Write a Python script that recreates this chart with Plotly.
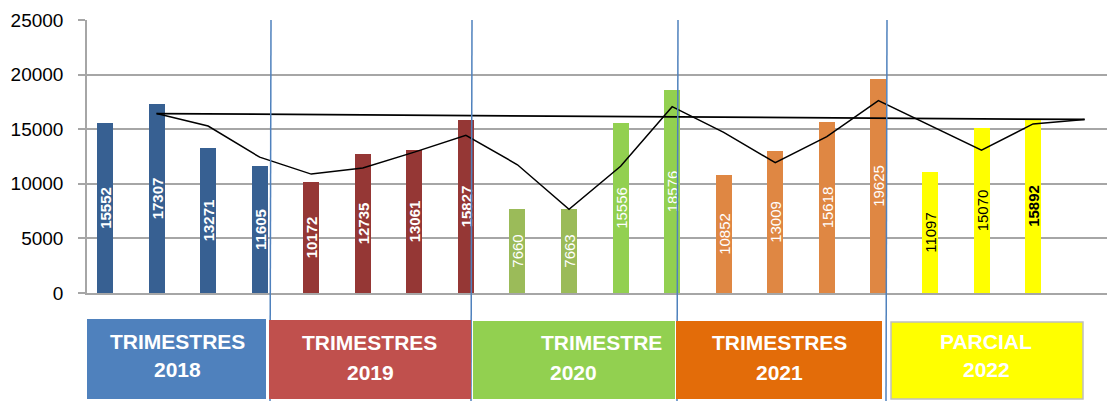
import numpy as np
import pandas as pd
import plotly.graph_objects as go

# ---- data ----
years = ["2018", "2019", "2020", "2021", "2022"]
values_2018 = [15552, 17307, 13271, 11605]
values_2019 = [10172, 12735, 13061, 15827]
values_2020 = [7660, 7663, 15556, 18576]
values_2021 = [10852, 13009, 15618, 19625]
values_2022 = [11097, 15070, 15892]
group_titles = ["TRIMESTRES", "TRIMESTRES", "TRIMESTRE", "TRIMESTRES", "PARCIAL"]

values = values_2018 + values_2019 + values_2020 + values_2021 + values_2022
n = len(values)
xs = list(range(n))

# ---- styles ----
bar_colors = (["#376092"] * 4 + ["#953735"] * 4 + ["#9BBB59"] * 2 + ["#92D050"] * 2
              + ["#DF8743"] * 4 + ["#FFFF00"] * 3)
label_colors = ["white"] * 16 + ["black"] * 3
bold = [True] * 8 + [False] * 8 + [False, False, True]
labels = [f"<b>{v}</b>" if b else str(v) for v, b in zip(values, bold)]

# 2-period moving average (extends one slot past the last quarter)
s = pd.Series(values + [np.nan])
ma = s.rolling(2, min_periods=1).mean()
ma.iloc[0] = np.nan
ma_x = list(range(len(ma)))

fig = go.Figure()
fig.add_trace(go.Bar(
    x=xs, y=values, width=0.31, marker=dict(color=bar_colors, line=dict(width=0)),
    text=labels, textposition="inside", insidetextanchor="middle", textangle=-90,
    constraintext="none",
    textfont=dict(family="Liberation Sans", size=15, color=label_colors),
    hoverinfo="skip", showlegend=False,
))
fig.add_trace(go.Scatter(
    x=ma_x, y=ma.tolist(), mode="lines", line=dict(color="black", width=1.5),
    showlegend=False, hoverinfo="skip",
))
# straight line from first to last moving-average point
valid = ma.dropna()
fig.add_trace(go.Scatter(
    x=[valid.index[0], valid.index[-1]], y=[valid.iloc[0], valid.iloc[-1]],
    mode="lines", line=dict(color="black", width=1.8), showlegend=False, hoverinfo="skip",
))

# ---- layout helpers (pixel -> paper) ----
L, T, W, H = 87, 20, 1020, 273
def px(xp):
    return (xp - L) / W
def py(yp):
    return (T + H - yp) / H

shapes = []
for xp in [271, 472, 678, 887]:
    shapes.append(dict(type="line", xref="paper", yref="paper", x0=px(xp), x1=px(xp - 1),
                       y0=1, y1=py(401), line=dict(color="#4F81BD", width=1.5)))

boxes = [
    (87, 266, 319, 399, "#4F81BD", None),
    (269, 471, 320, 399, "#C0504D", None),
    (473, 675, 321, 399, "#92D050", None),
    (676, 882, 321, 399, "#E36C09", None),
    (891, 1083, 322, 399, "#FFFF00", "#BFBFBF"),
]
for x0, x1, y0, y1, c, lc in boxes:
    shapes.append(dict(type="rect", xref="paper", yref="paper", x0=px(x0), x1=px(x1),
                       y0=py(y0), y1=py(y1), fillcolor=c,
                       line=dict(color=lc if lc else c, width=1.5 if lc else 0), layer="above"))

text_pos = [
    ((177, 341), (177, 370)),
    ((369, 342), (370, 372)),
    ((601, 342), (573, 372)),
    ((779, 342), (779, 372)),
    ((986, 341), (986, 369)),
]
annotations = []
for (p1, p2), title, yr in zip(text_pos, group_titles, years):
    for (xp, yp), t in ((p1, title), (p2, yr)):
        annotations.append(dict(xref="paper", yref="paper", x=px(xp), y=py(yp), text=f"<b>{t}</b>",
                                showarrow=False, xanchor="center", yanchor="middle",
                                font=dict(family="Liberation Sans", size=21, color="white")))

fig.update_layout(
    width=1107, height=401,
    margin=dict(l=L, r=0, t=T, b=401 - T - H),
    paper_bgcolor="white", plot_bgcolor="white",
    shapes=shapes, annotations=annotations,
    bargap=0,
    xaxis=dict(range=[-0.349, 19.434], showticklabels=False, ticks="", showgrid=False,
               zeroline=False, showline=True, linecolor="#A6A6A6", linewidth=1.5, fixedrange=True),
    yaxis=dict(range=[0, 25000], tickvals=[0, 5000, 10000, 15000, 20000, 25000],
               tickformat="d", ticks="outside", ticklen=7, tickcolor="#A6A6A6", tickwidth=1.5,
               showgrid=True, gridcolor="#A6A6A6", gridwidth=1.5, zeroline=False,
               showline=True, linecolor="#A6A6A6", linewidth=1.5,
               ticklabelstandoff=11,
               tickfont=dict(family="Liberation Sans", size=19, color="black")),
)

fig.write_html("out.html", config={"displayModeBar": False},
               post_script="document.body.style.margin='0';")
